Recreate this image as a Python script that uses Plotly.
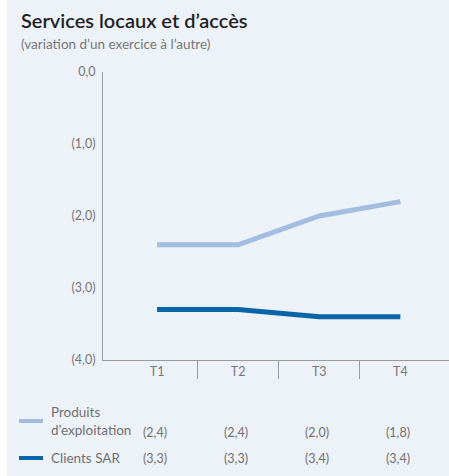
import plotly.graph_objects as go

categories = ["T1", "T2", "T3", "T4"]
produits = [-2.4, -2.4, -2.0, -1.8]
clients = [-3.3, -3.3, -3.4, -3.4]
y_tickvals = [0, -1, -2, -3, -4]
y_ticktext = ["0,0", "(1,0)", "(2,0)", "(3,0)", "(4,0)"]
series_names = ["Produits<br>d’exploitation", "Clients SAR"]
colors = ["#a3bde0", "#0964a8"]

W_FIG, H_FIG = 449, 476
L, R, T, B = 103, 0, 72, 116
PW = W_FIG - L - R
PH = H_FIG - T - B
BG = "#edf2f9"
FONT = "Lato"

def px(x):
    return (x - L) / PW

def py(y):
    return (H_FIG - B - y) / PH

def fmt(v):
    return "(" + f"{abs(v):.1f}".replace(".", ",") + ")"

xs = list(range(len(categories)))

fig = go.Figure()
for vals, col in zip([produits, clients], colors):
    fig.add_trace(go.Scatter(x=xs, y=vals, mode="lines",
                             line=dict(color=col, width=5),
                             hoverinfo="skip", showlegend=False))

shapes = [
    dict(type="rect", xref="paper", yref="paper", x0=px(7), x1=px(449), y0=py(476), y1=py(0),
         fillcolor=BG, line=dict(width=0), layer="below"),
]
annotations = [
    dict(text="Services locaux et d’accès", x=px(19), y=py(20), xref="paper", yref="paper",
         xanchor="left", yanchor="middle", showarrow=False,
         font=dict(family=FONT, size=20, color="#222222", weight=600)),
    dict(text="(variation d’un exercice à l’autre)", x=px(19), y=py(44), xref="paper", yref="paper",
         xanchor="left", yanchor="middle", showarrow=False,
         font=dict(family=FONT, size=13.5, color="#777777")),
]

# legend / data table
rows = [(produits, 421, 432), (clients, 458, 458)]
for i, (vals, sy, vy) in enumerate(rows):
    shapes.append(dict(type="line", xref="paper", yref="paper", x0=px(19), x1=px(43),
                       y0=py(sy), y1=py(sy), line=dict(color=colors[i], width=4)))
    annotations.append(dict(text=series_names[i], x=px(49), y=py(sy), xref="paper", yref="paper",
                            xanchor="left", yanchor="middle", showarrow=False, align="left",
                            font=dict(family=FONT, size=13.5, color="#707070")))
    for j, v in enumerate(vals):
        annotations.append(dict(text=fmt(v), x=xs[j], y=py(vy), xref="x", yref="paper",
                                xanchor="center", yanchor="middle", showarrow=False, xshift=-2,
                                font=dict(family=FONT, size=12.5, color="#707070")))

fig.update_layout(
    width=W_FIG, height=H_FIG,
    margin=dict(l=L, r=R, t=T, b=B),
    paper_bgcolor="white", plot_bgcolor=BG,
    shapes=shapes, annotations=annotations,
    font=dict(family=FONT, color="#777777"),
    xaxis=dict(range=[-0.667, 3.6], tickvals=xs, ticktext=categories,
               showgrid=False, zeroline=False, showline=True, linecolor="#9a9a9a", linewidth=1,
               ticks="", tickfont=dict(size=12.5, color="#777777"),
               minor=dict(tickvals=[0.5, 1.5, 2.5], ticks="outside", ticklen=18,
                          tickcolor="#9a9a9a", tickwidth=1, showgrid=False),
               fixedrange=True),
    yaxis=dict(range=[-4, 0], tickvals=y_tickvals, ticktext=y_ticktext,
               showgrid=False, zeroline=False, showline=True, linecolor="#9a9a9a", linewidth=1,
               ticks="", ticklabelstandoff=4, tickfont=dict(size=12.5, color="#777777"),
               fixedrange=True),
)

fig.write_html("out.html", config={"displayModeBar": False},
               post_script="document.body.style.margin='0';document.body.style.overflow='hidden';")
